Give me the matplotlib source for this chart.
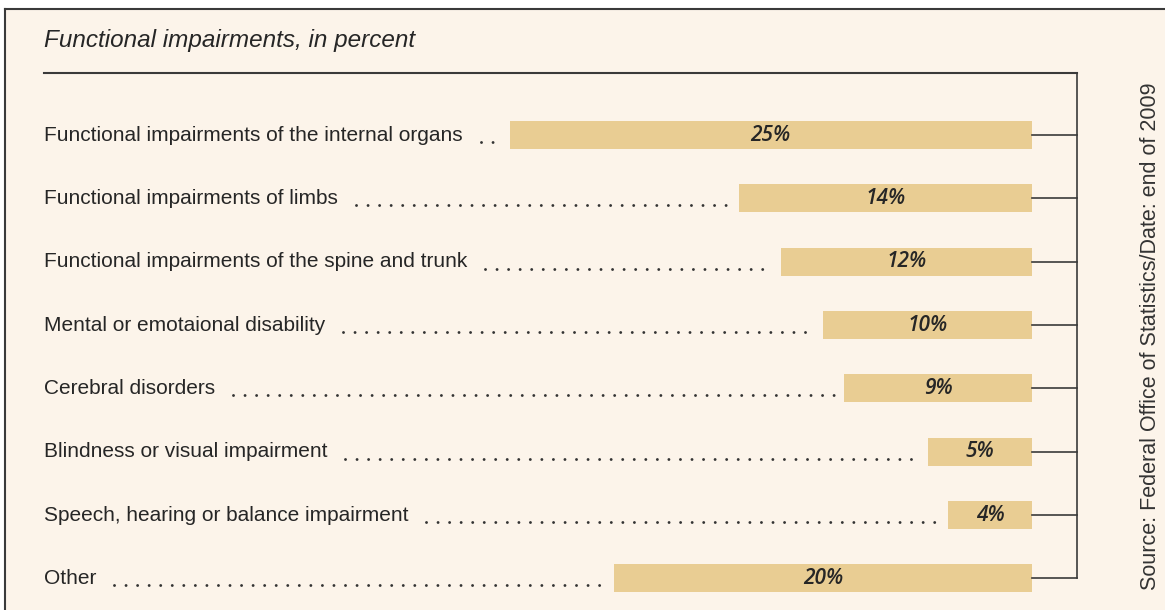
import matplotlib
matplotlib.use("Agg")
import matplotlib.pyplot as plt
from matplotlib.lines import Line2D

categories = [
    "Functional impairments of the internal organs",
    "Functional impairments of limbs",
    "Functional impairments of the spine and trunk",
    "Mental or emotaional disability",
    "Cerebral disorders",
    "Blindness or visual impairment",
    "Speech, hearing or balance impairment",
    "Other",
]
values = [25, 14, 12, 10, 9, 5, 4, 20]
value_labels = ["25%", "14%", "12%", "10%", "9%", "5%", "4%", "20%"]

title = "Functional impairments, in percent"
source = "Source: Federal Office of Statistics/Date: end of 2009"

bg = "#fcf4ea"
bar_color = "#e9cd93"
ink = "#262626"
line_c = "#3a3a3a"

plt.rcParams["font.family"] = ["Liberation Sans", "DejaVu Sans"]

W, H = 1165, 610
fig = plt.figure(figsize=(W / 100, H / 100), dpi=100)
fig.patch.set_facecolor("white")

# cream panel with a dark frame on the left and top
panel = plt.Rectangle((5 / W, 0), 1, 1 - 9 / H, transform=fig.transFigure,
                      facecolor=bg, edgecolor="none", zorder=-10)
fig.patches.append(panel)
fig.add_artist(Line2D([5 / W, 5 / W], [0, 1 - 9 / H], transform=fig.transFigure,
                      color=line_c, lw=1.5, zorder=-5))
fig.add_artist(Line2D([5 / W, 1], [1 - 9 / H, 1 - 9 / H], transform=fig.transFigure,
                      color=line_c, lw=1.5, zorder=-5))

px_per_pct = 20.9
x0, x1 = 44, 1032
ax = fig.add_axes([x0 / W, 0.0, (x1 - x0) / W, 1 - 103.4 / H])
ax.set_zorder(5)
ax.set_facecolor("none")
ax.set_xlim((x1 - x0) / px_per_pct, 0)
ax.set_ylim(len(values) - 0.5, -0.5)
ax.axis("off")

ypos = list(range(len(values)))
ax.barh(ypos, values, height=0.44, color=bar_color, zorder=2)

for y, v, lab in zip(ypos, values, value_labels):
    ax.text(v / 2, y, lab, ha="center", va="center", fontsize=15,
            style="italic", weight="semibold", family=["Open Sans", "DejaVu Sans"],
            color=ink, zorder=3)

label_texts = []
for y, c in zip(ypos, categories):
    t = ax.text(ax.get_xlim()[0], y, c, ha="left", va="center", fontsize=15,
                color=ink)
    label_texts.append(t)

# bracket on the right
step = 63.3
xr = -(1077 - x1) / px_per_pct
ytop = -(135 - 73) / step
ax.plot([xr, xr], [ytop, ypos[-1]], color=line_c, lw=1.2, clip_on=False)
for y in ypos:
    ax.plot([0, xr], [y, y], color=line_c, lw=1.2, clip_on=False)
ax.plot([ax.get_xlim()[0], xr], [ytop, ytop], color=line_c, lw=1.5, clip_on=False)

# dotted leaders between labels and bars
fig.canvas.draw()
renderer = fig.canvas.get_renderer()
inv = ax.transData.inverted()
for t, y, v in zip(label_texts, ypos, values):
    bb = t.get_window_extent(renderer)
    xs = inv.transform((bb.x1 + 18, 0))[0]
    xe = v + 8 / px_per_pct
    if xs > xe:
        ax.plot([xs, xe], [y + 0.11, y + 0.11], color="#333333", lw=2.1,
                linestyle=(0, (0.01, 3.95)), dash_capstyle="round")

fig.text(44 / W, 1 - 40 / H, title, ha="left", va="center", fontsize=17.5,
         style="italic", color=ink)
fig.text(1150 / W, 1 - 336 / H, source, ha="center", va="center", rotation=90,
         fontsize=15.5, color="#333333")

fig.savefig("out.png", dpi=100, facecolor=fig.get_facecolor())
